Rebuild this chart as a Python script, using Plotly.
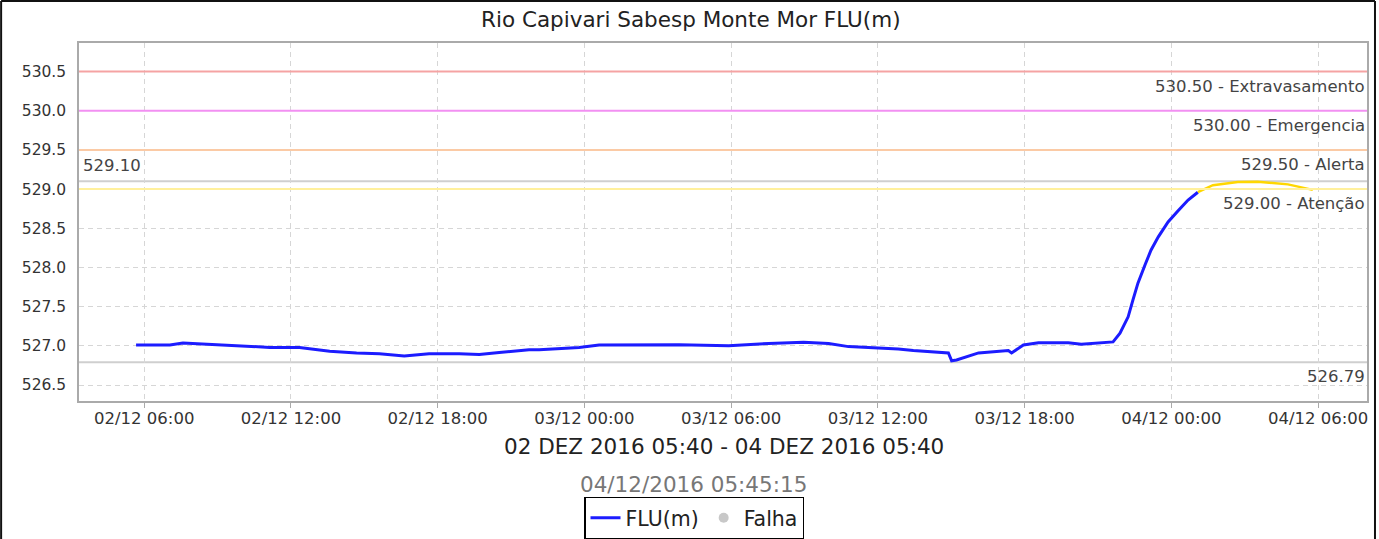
import plotly.graph_objects as go

# Measured series (blue) and projection (yellow)
flu_times = [
    "2016-12-02 05:40", "2016-12-02 06:14", "2016-12-02 07:03", "2016-12-02 07:35",
    "2016-12-02 08:41", "2016-12-02 09:54", "2016-12-02 11:08", "2016-12-02 12:21",
    "2016-12-02 13:35", "2016-12-02 14:41", "2016-12-02 15:37", "2016-12-02 16:38",
    "2016-12-02 17:39", "2016-12-02 18:53", "2016-12-02 19:42", "2016-12-02 20:31",
    "2016-12-02 21:44", "2016-12-02 22:09", "2016-12-02 23:47", "2016-12-03 00:36",
    "2016-12-03 01:49", "2016-12-03 03:52", "2016-12-03 05:54", "2016-12-03 07:32",
    "2016-12-03 08:58", "2016-12-03 09:59", "2016-12-03 10:48", "2016-12-03 11:37",
    "2016-12-03 12:50", "2016-12-03 13:27", "2016-12-03 14:16", "2016-12-03 14:53",
    "2016-12-03 15:01", "2016-12-03 15:13", "2016-12-03 16:07", "2016-12-03 17:20",
    "2016-12-03 17:28", "2016-12-03 17:57", "2016-12-03 18:34", "2016-12-03 19:47",
    "2016-12-03 20:19", "2016-12-03 21:17", "2016-12-03 21:37", "2016-12-03 21:54",
    "2016-12-03 22:14", "2016-12-03 22:26", "2016-12-03 22:38", "2016-12-03 22:56",
    "2016-12-03 23:10", "2016-12-03 23:28", "2016-12-03 23:52", "2016-12-04 00:16",
    "2016-12-04 00:41", "2016-12-04 01:05",
]
flu_values = [
    527.01, 527.01, 527.01, 527.035,
    527.02, 527.00, 526.98, 526.98,
    526.93, 526.91, 526.90, 526.87,
    526.90, 526.90, 526.89, 526.915,
    526.95, 526.95, 526.98, 527.01,
    527.015, 527.015, 527.00, 527.03,
    527.045, 527.03, 526.99, 526.98,
    526.96, 526.94, 526.92, 526.91,
    526.81, 526.82, 526.91, 526.94,
    526.91, 527.01, 527.04, 527.04,
    527.02, 527.04, 527.05, 527.16,
    527.37, 527.59, 527.80, 528.04,
    528.22, 528.39, 528.58, 528.72,
    528.86, 528.96,
]
proj_times = ["2016-12-04 01:05", "2016-12-04 01:42", "2016-12-04 02:43",
              "2016-12-04 03:32", "2016-12-04 04:46", "2016-12-04 05:47"]
proj_values = [528.96, 529.05, 529.09, 529.095, 529.06, 528.99]

# Threshold levels
level_values = [530.5, 530.0, 529.5, 529.0]
level_labels = ["530.50 - Extravasamento", "530.00 - Emergencia", "529.50 - Alerta", "529.00 - Atenção"]
level_colors = ["#f5a3a3", "#f290f2", "#fbcaa5", "#fff09c"]
max_value = 529.10
min_value = 526.79

title_text = "Rio Capivari Sabesp Monte Mor FLU(m)"
period_text = "02 DEZ 2016 05:40 - 04 DEZ 2016 05:40"
stamp_text = "04/12/2016 05:45:15"

FONT = "DejaVu Sans"
L, R, T, B = 79, 1369, 43, 401
PW, PH = R - L, B - T


def px(xpix):
    return (xpix - L) / PW


def py(ypix):
    return (B - ypix) / PH


fig = go.Figure()

fig.add_trace(go.Scatter(x=flu_times, y=flu_values, mode="lines", name="FLU(m)",
                         line=dict(color="#1c1cff", width=3)))
fig.add_trace(go.Scatter(x=proj_times, y=proj_values, mode="lines", showlegend=False,
                         line=dict(color="#ffd700", width=2.5), hoverinfo="skip"))
fig.add_trace(go.Scatter(x=[None], y=[None], mode="markers", name="Falha",
                         marker=dict(color="#c8c8c8", size=10)))

# threshold lines
for v, c in zip(level_values, level_colors):
    fig.add_shape(type="line", xref="paper", x0=0, x1=1, yref="y", y0=v, y1=v,
                  line=dict(color=c, width=2), layer="above")
for v in [max_value, min_value]:
    fig.add_shape(type="line", xref="paper", x0=0, x1=1, yref="y", y0=v, y1=v,
                  line=dict(color="#cfcfcf", width=2), layer="below")

LBL = dict(family=FONT, size=16.5, color="#444444")
for v, t in zip(level_values, level_labels):
    fig.add_annotation(x=px(1369), xref="paper", xanchor="right", y=v, yref="y",
                       yanchor="top", yshift=-3, text=t, showarrow=False, font=LBL)
fig.add_annotation(x=px(81), xref="paper", xanchor="left", y=max_value, yref="y",
                   yanchor="bottom", yshift=4, text=f"{max_value:.2f}", showarrow=False,
                   font=LBL)
fig.add_annotation(x=px(1369), xref="paper", xanchor="right", y=min_value, yref="y",
                   yanchor="top", yshift=-3, text=f"{min_value:.2f}", showarrow=False,
                   font=LBL)

# texts
fig.add_annotation(x=px(692), xref="paper", y=py(19), yref="paper", text=title_text,
                   showarrow=False, xanchor="center", yanchor="middle",
                   font=dict(family=FONT, size=21.5, color="#222222"))
fig.add_annotation(x=px(725), xref="paper", y=py(446), yref="paper", text=period_text,
                   showarrow=False, xanchor="center", yanchor="middle",
                   font=dict(family=FONT, size=21.5, color="#222222"))
fig.add_annotation(x=px(694), xref="paper", y=py(484), yref="paper",
                   text=stamp_text, showarrow=False, xanchor="center", yanchor="middle",
                   font=dict(family=FONT, size=21.5, color="#777777"))

# outer border (left, top, right)
for (xa, ya, xb, yb) in [(1, 1, 1, 600), (1, 1, 1377, 1), (1377, 1, 1377, 600)]:
    fig.add_shape(type="line", xref="paper", yref="paper",
                  x0=px(xa), x1=px(xb), y0=py(ya), y1=py(yb),
                  line=dict(color="#111111", width=2))

fig.update_layout(
    width=1379, height=539,
    margin=dict(l=L, r=1379 - R, t=T, b=539 - B),
    paper_bgcolor="white", plot_bgcolor="white",
    font=dict(family=FONT, size=15, color="#333333"),
    showlegend=True,
    legend=dict(orientation="h", xref="container", yref="container",
                x=694 / 1379, xanchor="center", y=(539 - 518) / 539, yanchor="middle",
                bordercolor="#000000", borderwidth=1.5, bgcolor="white",
                font=dict(family=FONT, size=20.5, color="#222222"),
                itemwidth=30, tracegroupgap=0),
    xaxis=dict(
        range=["2016-12-02 03:20", "2016-12-04 08:00"],
        tickformat="%d/%m %H:%M", dtick=6 * 3600 * 1000, tick0="2016-12-02 00:00",
        showgrid=True, gridcolor="#d6d6d6", griddash="5px,4px", gridwidth=1,
        showline=True, linecolor="#aaaaaa", linewidth=1.5, mirror=True,
        ticks="outside", ticklen=5, tickcolor="#aaaaaa", ticklabelstandoff=-4,
        tickfont=dict(family=FONT, size=16.5, color="#333333"), zeroline=False,
    ),
    yaxis=dict(
        range=[526.296, 530.864], dtick=0.5, tick0=526.5, tickformat=".1f",
        showgrid=True, gridcolor="#d6d6d6", griddash="5px,4px", gridwidth=1,
        showline=True, linecolor="#aaaaaa", linewidth=1.5, mirror=True,
        ticks="", ticklabelstandoff=8,
        tickfont=dict(family=FONT, size=15.5, color="#333333"), zeroline=False,
    ),
)

fig.write_html("out.html", config={"displayModeBar": False},
               post_script="document.body.style.margin='0';")
